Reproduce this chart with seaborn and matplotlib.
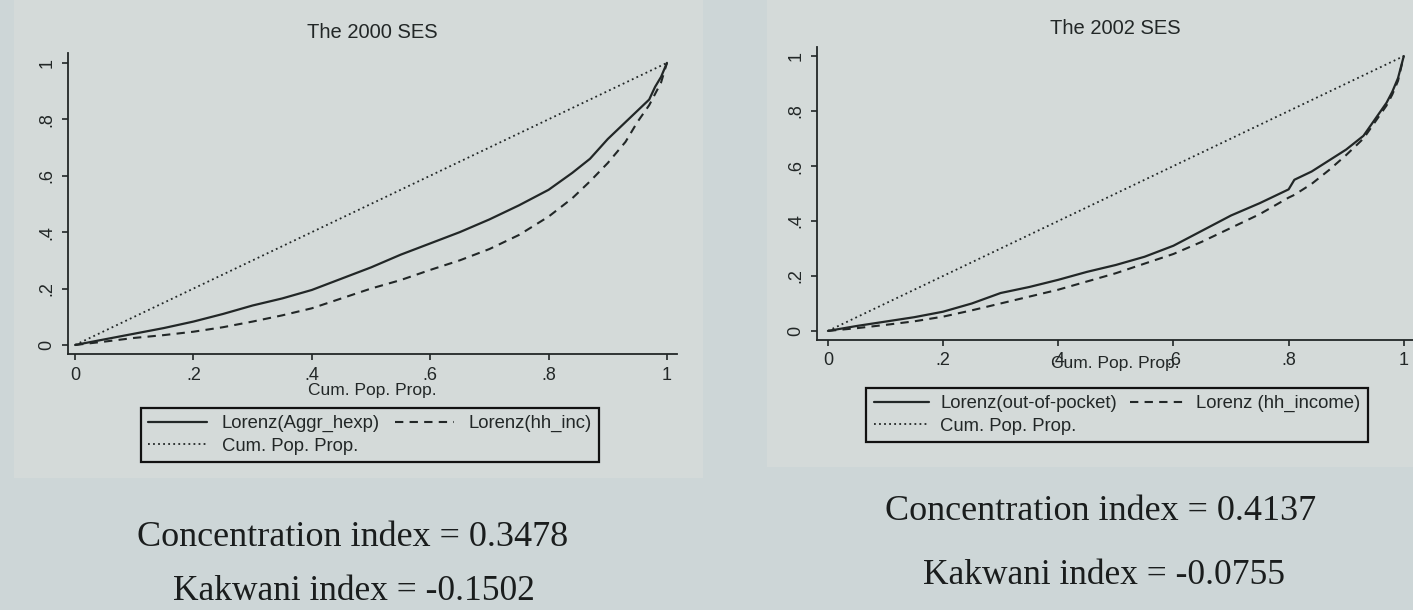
import numpy as np
import pandas as pd
import matplotlib
matplotlib.use("Agg")
import matplotlib.pyplot as plt
import seaborn as sns
from matplotlib.patches import Rectangle
from matplotlib.lines import Line2D

sns.set_theme(style="white")
plt.rcParams["font.family"] = ["Liberation Sans", "DejaVu Sans"]

# ---- 2000 SES: cumulative population share vs. Lorenz ordinates ----
pop_2000 = [0, .05, .10, .15, .20, .25, .30, .35, .40, .45, .50, .55, .60,
            .65, .70, .75, .80, .84, .87, .90, .93, .95, .97, .98, .99, 1.0]
lorenz_hexp_2000 = [0, .020, .040, .060, .083, .110, .140, .165, .195, .235,
                    .275, .320, .360, .400, .445, .495, .550, .610, .660,
                    .730, .790, .830, .870, .915, .950, 1.0]
lorenz_inc_2000 = [0, .012, .025, .035, .047, .063, .083, .105, .130, .165,
                   .200, .230, .266, .300, .340, .390, .455, .520, .580,
                   .645, .720, .790, .850, .890, .930, 1.0]

# ---- 2002 SES ----
pop_2002 = [0, .05, .10, .15, .20, .25, .30, .35, .40, .45, .50, .55, .60,
            .65, .70, .75, .80, .81, .84, .87, .90, .93, .95, .97, .98, .99, 1.0]
lorenz_oop_2002 = [0, .018, .034, .050, .070, .100, .138, .160, .186, .215,
                   .240, .270, .310, .365, .420, .465, .515, .550, .580,
                   .620, .660, .710, .770, .830, .870, .920, 1.0]
lorenz_inc_2002 = [0, .010, .022, .035, .052, .075, .100, .125, .150, .180,
                   .210, .245, .280, .325, .375, .425, .485, .495, .535,
                   .585, .640, .700, .760, .820, .860, .910, 1.0]

equality = [0.0, 1.0]

titles = ["The 2000 SES", "The 2002 SES"]
xlabel = "Cum. Pop. Prop."
legend_labels = [
    ["Lorenz(Aggr_hexp)", "Lorenz(hh_inc)", "Cum. Pop. Prop."],
    ["Lorenz(out-of-pocket)", "Lorenz (hh_income)", "Cum. Pop. Prop."],
]
conc_index = ["0.3478", "0.4137"]
kakwani_index = ["-0.1502", "-0.0755"]
tick_vals = [0, .2, .4, .6, .8, 1]
tick_text = ["0", ".2", ".4", ".6", ".8", "1"]

BG = "#cdd6d7"
PANEL = "#d4dad9"
INK = "#222727"

W, H = 1413, 610
fig = plt.figure(figsize=(W / 100, H / 100), dpi=100, facecolor=BG)

def px_rect(x0, y0, x1, y1):
    return [x0 / W, 1 - y1 / H, (x1 - x0) / W, (y1 - y0) / H]

# faint panels behind each chart
for (x0, y0, x1, y1) in [(14, 0, 703, 478), (767, 0, 1413, 467)]:
    fig.patches.append(Rectangle((x0 / W, 1 - y1 / H), (x1 - x0) / W, (y1 - y0) / H,
                                 transform=fig.transFigure, facecolor=PANEL,
                                 edgecolor="none", zorder=-5))

panels = [
    dict(rect=px_rect(68, 53, 677, 354), xlim=(-0.012, 1.017), ylim=(-0.032, 1.035),
         pop=pop_2000, a=lorenz_hexp_2000, b=lorenz_inc_2000,
         title_y=(354 - 33) / 301, xlab_y=-0.12, leg=(370, 435),
         leg_kw=dict(handlelength=3.2, handletextpad=0.8, columnspacing=0.8)),
    dict(rect=px_rect(817, 47, 1413, 340), xlim=(-0.019, 1.016), ylim=(-0.033, 1.033),
         pop=pop_2002, a=lorenz_oop_2002, b=lorenz_inc_2002,
         title_y=(340 - 28) / 293, xlab_y=-0.08, leg=(1117, 415),
         leg_kw=dict(handlelength=3.0, handletextpad=0.6, columnspacing=0.7)),
]

for i, p in enumerate(panels):
    ax = fig.add_axes(p["rect"])
    ax.set_zorder(2)
    ax.set_facecolor("none")
    df_a = pd.DataFrame({"pop": p["pop"], "share": p["a"]})
    df_b = pd.DataFrame({"pop": p["pop"], "share": p["b"]})
    df_e = pd.DataFrame({"pop": equality, "share": equality})
    sns.lineplot(data=df_a, x="pop", y="share", ax=ax, color=INK, lw=1.6,
                 estimator=None, sort=False)
    sns.lineplot(data=df_b, x="pop", y="share", ax=ax, color=INK, lw=1.5,
                 linestyle=(0, (4, 3)), estimator=None, sort=False)
    sns.lineplot(data=df_e, x="pop", y="share", ax=ax, color=INK, lw=1.3,
                 linestyle=(0, (1, 1.8)), estimator=None, sort=False)
    ax.set_xlim(*p["xlim"])
    ax.set_ylim(*p["ylim"])
    ax.set_xticks(tick_vals)
    ax.set_xticklabels(tick_text, fontsize=13, color=INK)
    ax.set_yticks(tick_vals)
    ax.set_yticklabels(tick_text, fontsize=13, color=INK, rotation=90, va="center")
    ax.tick_params(axis="both", direction="out", length=4, width=1.2, color=INK,
                   bottom=True, left=True, pad=5)
    for s in ["top", "right"]:
        ax.spines[s].set_visible(False)
    for s in ["left", "bottom"]:
        ax.spines[s].set_color(INK)
        ax.spines[s].set_linewidth(1.3)
    ax.grid(False)
    ax.set_ylabel("")
    ax.set_xlabel(xlabel, fontsize=12.5, color=INK)
    ax.xaxis.set_label_coords(0.5, p["xlab_y"])
    ax.xaxis.label.set_va("center")
    ax.set_title(titles[i], fontsize=14.5, color=INK, y=p["title_y"], va="center",
                 pad=0)

    handles = [
        Line2D([], [], color=INK, lw=1.6),
        Line2D([], [], color=INK, lw=1.3, linestyle=(0, (1, 1.8))),
        Line2D([], [], color=INK, lw=1.5, linestyle=(0, (4, 3))),
    ]
    labs = legend_labels[i]
    leg = ax.legend(handles, [labs[0], labs[2], labs[1]], ncol=2, loc="center",
                    bbox_to_anchor=(p["leg"][0] / W, 1 - p["leg"][1] / H),
                    bbox_transform=fig.transFigure, fontsize=13.3, frameon=True,
                    fancybox=False, edgecolor="#111111", facecolor=PANEL,
                    framealpha=1, labelspacing=0.3, borderpad=0.4,
                    labelcolor=INK, **p["leg_kw"])
    leg.get_frame().set_linewidth(1.6)

serif = ["Liberation Serif", "DejaVu Serif"]
fig.text(353 / W, 1 - 537 / H, f"Concentration index = {conc_index[0]}",
         ha="center", va="center", fontsize=26, family=serif, color="#1a1d1d")
fig.text(354 / W, 1 - 592 / H, f"Kakwani index = {kakwani_index[0]}",
         ha="center", va="center", fontsize=25.5, family=serif, color="#1a1d1d")
fig.text(1101 / W, 1 - 512 / H, f"Concentration index = {conc_index[1]}",
         ha="center", va="center", fontsize=26, family=serif, color="#1a1d1d")
fig.text(1104 / W, 1 - 575 / H, f"Kakwani index = {kakwani_index[1]}",
         ha="center", va="center", fontsize=25.5, family=serif, color="#1a1d1d")

fig.savefig("out.png", dpi=100, facecolor=BG)
